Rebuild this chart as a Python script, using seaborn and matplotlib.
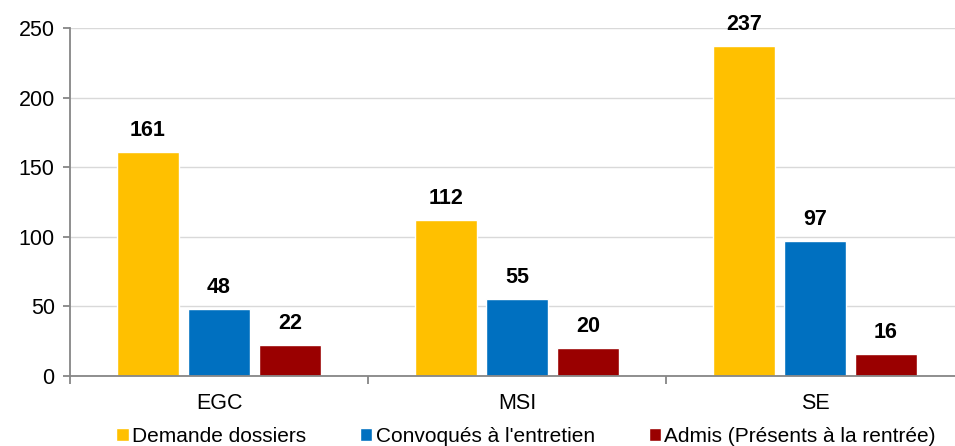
import pandas as pd
import numpy as np
import matplotlib
matplotlib.use("Agg")
import matplotlib.pyplot as plt
import seaborn as sns

# data
formations = ["EGC", "MSI", "SE"]
series = ["Demande dossiers", "Convoqués à l'entretien", "Admis (Présents à la rentrée)"]
demande = [161, 112, 237]
convoques = [48, 55, 97]
admis = [22, 20, 16]
colors = ["#FFC000", "#0070C0", "#9A0000"]

df = pd.DataFrame({
    "Formation": formations * 3,
    "Serie": [s for s in series for _ in formations],
    "Valeur": demande + convoques + admis,
})

sns.set_style("white")
plt.rcParams["font.family"] = ["Liberation Sans", "DejaVu Sans"]
plt.rcParams["text.color"] = "black"

fig = plt.figure(figsize=(9.55, 4.46), dpi=100)
ax = fig.add_axes([70 / 955, 70 / 446, 894 / 955, 348 / 446])

sns.barplot(data=df, x="Formation", y="Valeur", hue="Serie", hue_order=series,
            palette=colors, width=0.715, gap=0.13, saturation=1, ax=ax,
            legend=True)

ax.set_ylim(0, 250)
ax.set_xlim(-0.5, 2.5)
ax.set_yticks(range(0, 251, 50))
ax.yaxis.grid(True, color="#D9D9D9", linewidth=1)
ax.set_axisbelow(True)
ax.set_xlabel("")
ax.set_ylabel("")

for side in ["top", "right"]:
    ax.spines[side].set_visible(False)
for side in ["left", "bottom"]:
    ax.spines[side].set_color("#868686")
    ax.spines[side].set_linewidth(1.3)

ax.tick_params(axis="y", which="major", length=5, color="#868686", width=1.3,
               labelsize=15.5, pad=6, left=True, labelcolor="black")
ax.tick_params(axis="x", which="major", length=0, labelsize=15.5, pad=12,
               labelcolor="black")
ax.set_xticks([-0.5, 0.5, 1.5], minor=True)
ax.tick_params(axis="x", which="minor", length=6, color="#868686", width=1.3,
               bottom=True)

for cont in ax.containers:
    ax.bar_label(cont, fmt="%d", padding=8, fontsize=15.5, fontweight="bold",
                 color="black", clip_on=False)

handles, labels = ax.get_legend_handles_labels()
ax.legend_.remove()
fig.legend(handles, labels, loc="center", bbox_to_anchor=(526 / 955, 10 / 446),
           ncol=3, frameon=False, fontsize=15, handlelength=0.6,
           handleheight=0.6, handletextpad=0.15, columnspacing=2.6,
           borderaxespad=0, labelcolor="black")

fig.savefig("out.png", dpi=100)
